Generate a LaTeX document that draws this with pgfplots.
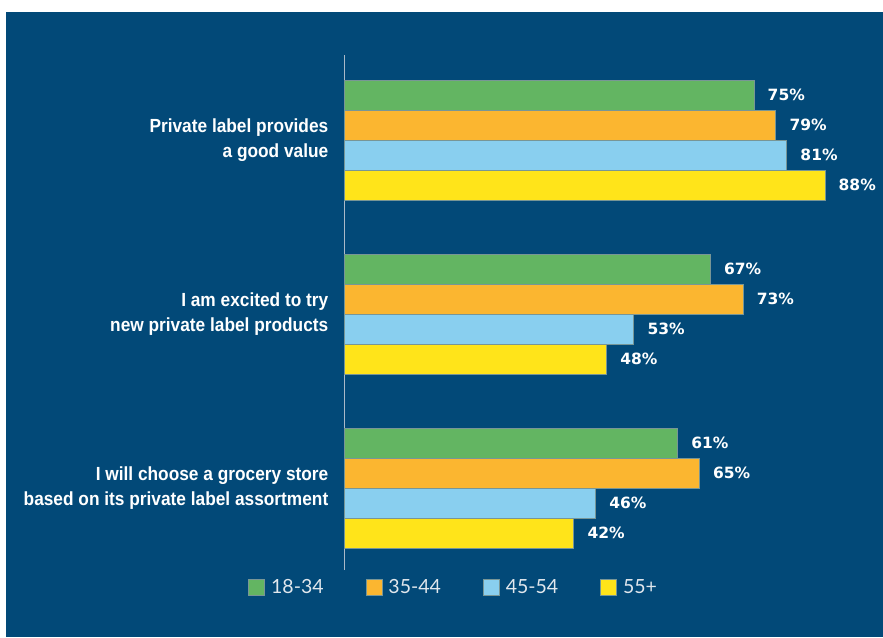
\documentclass[border=0pt]{standalone}
\usepackage{pgfplots}
\pgfplotsset{compat=1.18}
\usepackage{fontspec}
\setmainfont{Liberation Sans}
\newfontfamily\catfont[FakeStretch=0.91]{Liberation Sans}
\newfontfamily\valfont{DejaVu Sans}
\newfontfamily\legfont{Lato}
\definecolor{bgblue}{RGB}{2,73,120}
\definecolor{cgreen}{RGB}{99,181,98}
\definecolor{corange}{RGB}{251,182,48}
\definecolor{clblue}{RGB}{137,207,239}
\definecolor{cyellow}{RGB}{255,228,26}
\definecolor{axisgray}{RGB}{170,185,200}
\definecolor{baredge}{RGB}{120,150,150}
\definecolor{legtext}{RGB}{225,231,237}
\begin{document}
\begin{tikzpicture}
\fill[white] (0pt,0pt) rectangle (883pt,637pt);
\fill[bgblue] (6pt,0pt) rectangle (883pt,625pt);
\begin{axis}[
  at={(344.5pt,67pt)}, anchor=south west,
  scale only axis, width=491.4pt, height=515pt,
  xmin=0, xmax=90, ymin=-0.471, ymax=2.489,
  clip=false,
  xbar, bar width=30pt,
  axis x line=none,
  axis y line=left,
  y axis line style={-, draw=axisgray, line width=1pt},
  major tick length=0pt,
  /pgf/number format/assume math mode=true,
  ytick={0,1,2},
  yticklabels={{I will choose a grocery store\\based on its private label assortment},{I am excited to try\\new private label products},{Private label provides\\a good value}},
  yticklabel style={align=right, text=white, inner sep=0pt, xshift=-16pt, font=\catfont\bfseries\fontsize{19pt}{25pt}\selectfont},
  point meta=x,
  nodes near coords={\pgfmathprintnumber[assume math mode=true]{\pgfplotspointmeta}\%},
  every node near coord/.append style={anchor=west, xshift=10pt, text=white, font=\valfont\bfseries\fontsize{15.5pt}{18pt}\selectfont},
  legend columns=4,
  legend cell align=left,
  legend image code/.code={\fill[#1] (0pt,-8pt) rectangle (16pt,8pt);},
  legend style={at={(-0.196,-0.033)}, anchor=west, draw=none, fill=none, inner sep=0pt,
    font=\legfont\fontsize{19.5pt}{22pt}\selectfont,
    /tikz/every odd column/.append style={column sep=4pt},
    /tikz/every even column/.append style={column sep=40pt}},
]
\addplot[fill=cgreen, draw=baredge, line width=0.8pt, bar shift=45pt] coordinates {(61,0) (67,1) (75,2)};
\addplot[fill=corange, draw=baredge, line width=0.8pt, bar shift=15pt] coordinates {(65,0) (73,1) (79,2)};
\addplot[fill=clblue, draw=baredge, line width=0.8pt, bar shift=-15pt] coordinates {(46,0) (53,1) (81,2)};
\addplot[fill=cyellow, draw=baredge, line width=0.8pt, bar shift=-45pt] coordinates {(42,0) (48,1) (88,2)};
\legend{\textcolor{legtext}{18-34},\textcolor{legtext}{35-44},\textcolor{legtext}{45-54},\textcolor{legtext}{55+}}
\end{axis}
\pgfresetboundingbox
\useasboundingbox (0pt,0pt) rectangle (883pt,637pt);
\end{tikzpicture}
\end{document}
